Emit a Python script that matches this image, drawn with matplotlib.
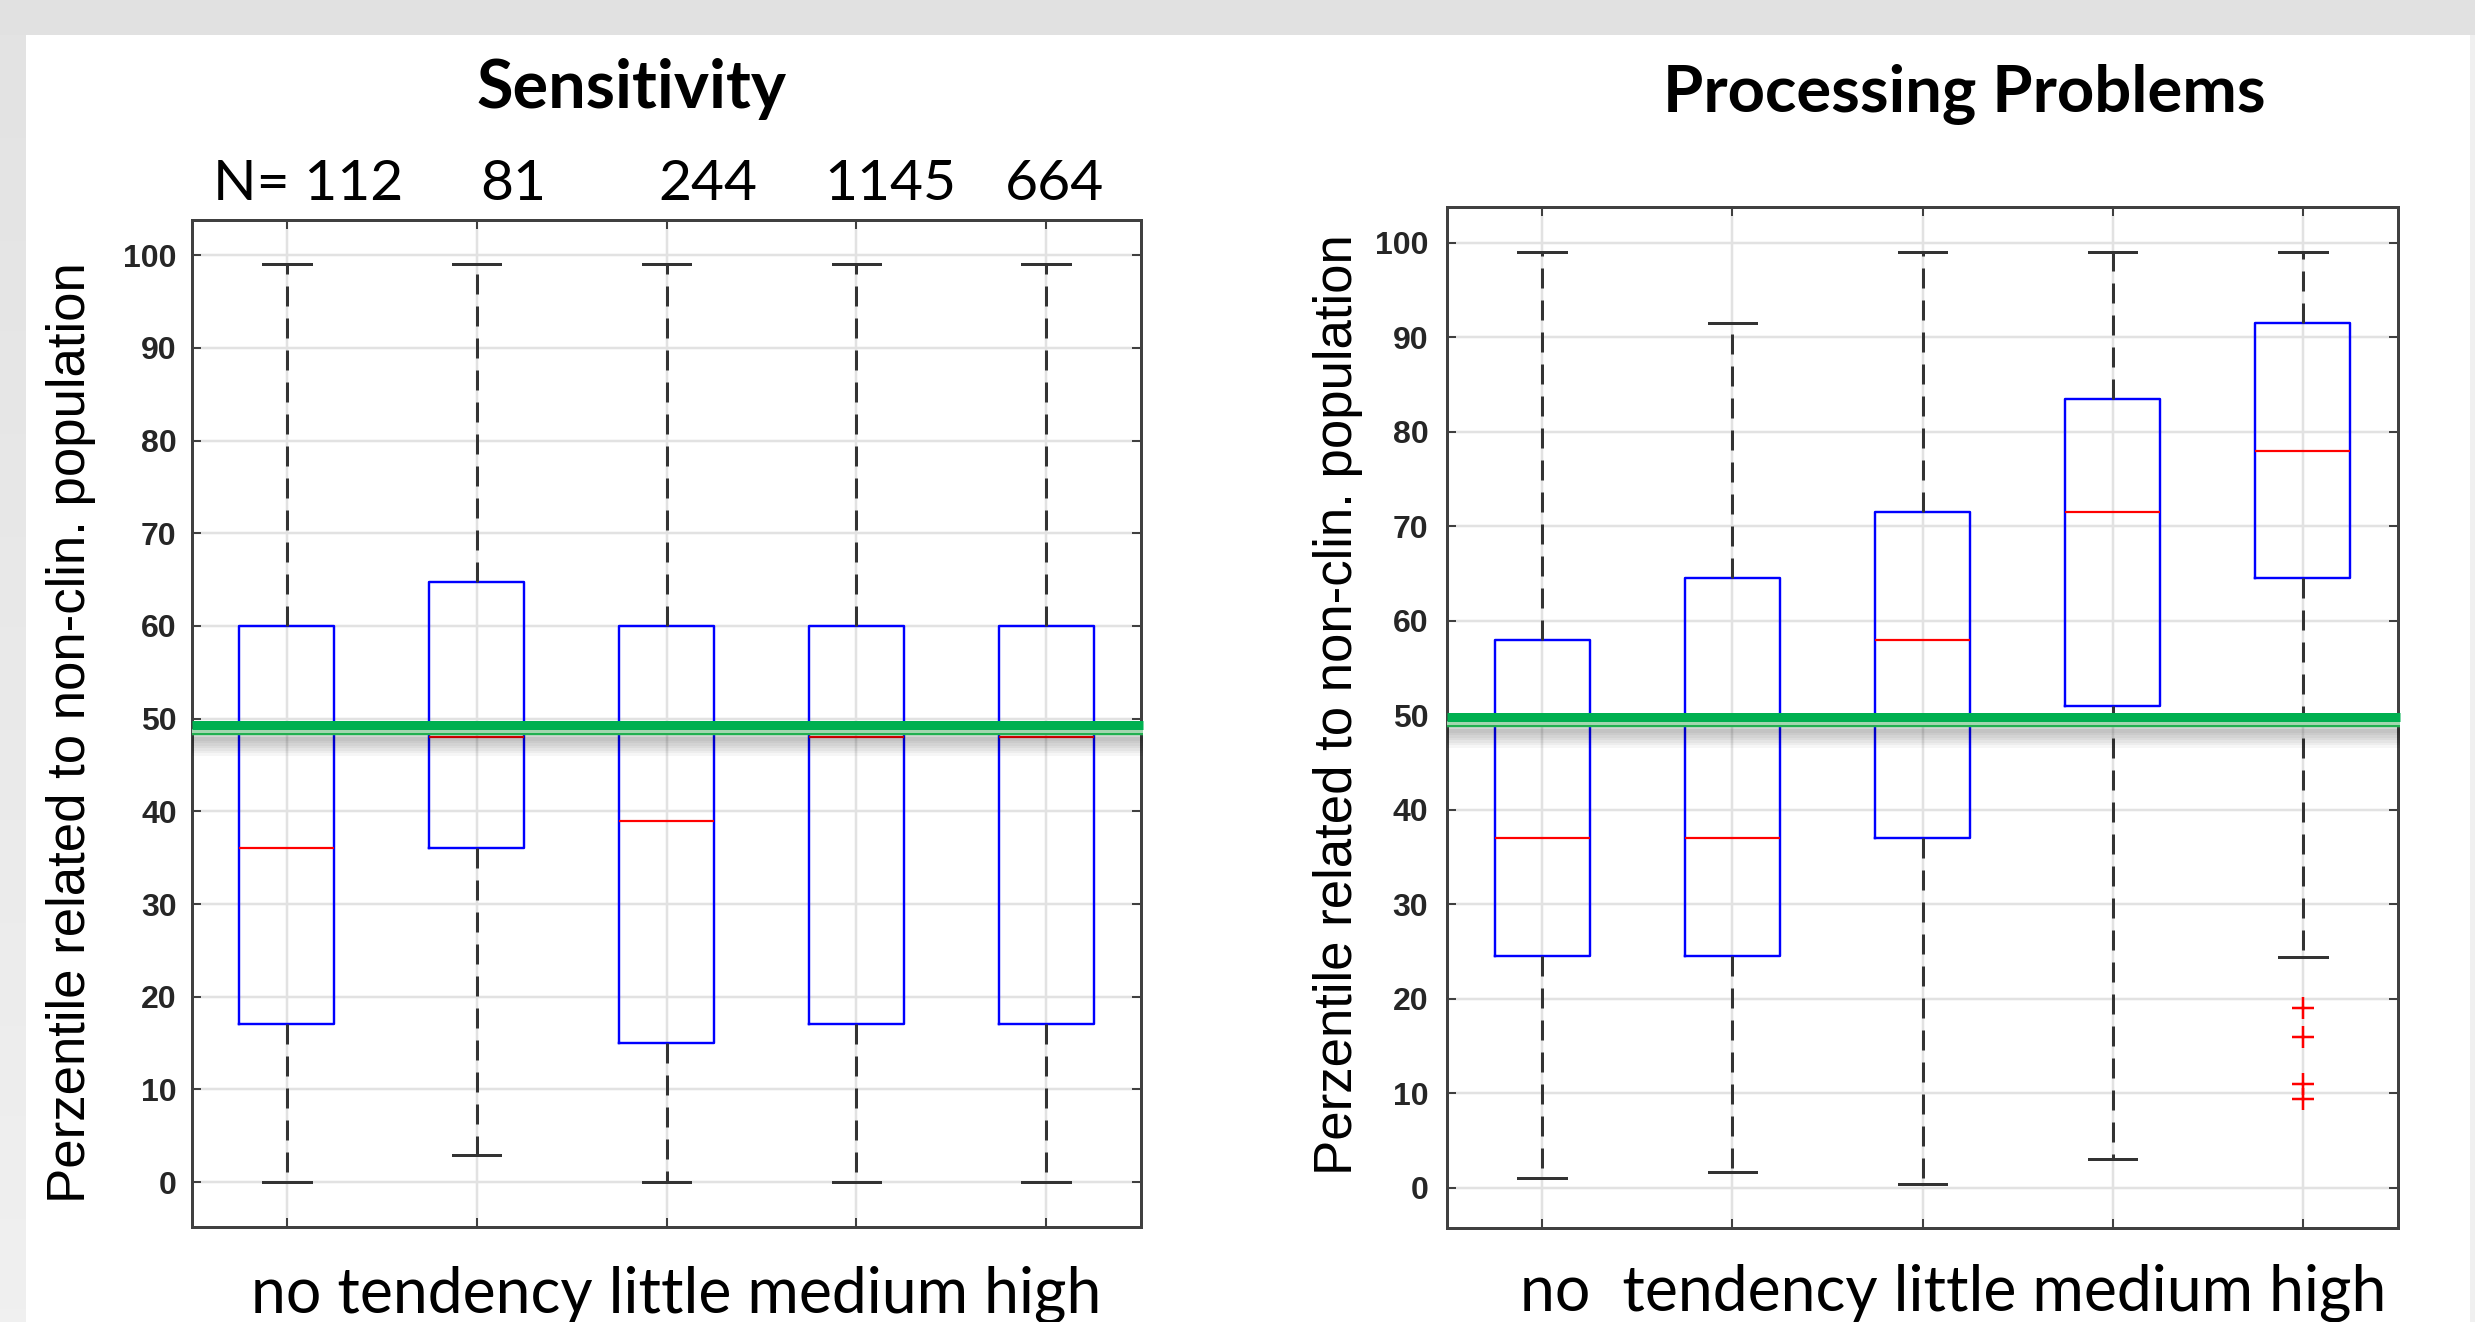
# -*- coding: utf-8 -*-
import numpy as np
import matplotlib
matplotlib.use("Agg")
import matplotlib.pyplot as plt
import matplotlib.transforms as mtrans
from matplotlib.patches import Rectangle

# ---- data ----
categories = ["no", "tendency", "little", "medium", "high"]
sens_n = ["N= 112", "81", "244", "1145", "664"]

sens_q1 = [17, 36, 15, 17, 17]
sens_q3 = [60, 64.7, 60, 60, 60]
sens_med = [36, 48, 39, 48, 48]
sens_lo = [0, 2.9, 0, 0, 0]
sens_hi = [99, 99, 99, 99, 99]
sens_fliers = [[], [], [], [], []]

proc_q1 = [24.5, 24.5, 37, 51, 64.5]
proc_q3 = [58, 64.5, 71.5, 83.5, 91.5]
proc_med = [37, 37, 58, 71.5, 78]
proc_lo = [1.0, 1.65, 0.45, 3.1, 24.4]
proc_hi = [99, 91.5, 99, 99, 99]
proc_fliers = [[], [], [], [], [19, 16, 11, 9.4]]

ref_level = [49.3, 49.8]  # green reference line (left, right)

plt.rcParams['lines.scale_dashes'] = False

W, H = 2475, 1322
DPI = 100
PX = 72.0 / DPI  # points per pixel

fig = plt.figure(figsize=(W / DPI, H / DPI), dpi=DPI, facecolor='#e1e1e1')

# slide background: grey frame + white area (own axes, kept behind everything)
bg = fig.add_axes([0, 0, 1, 1], zorder=-10)
bg.set_xlim(0, W)
bg.set_ylim(H, 0)
bg.axis('off')
grad = np.linspace(0, 1, 100).reshape(-1, 1)
cmap = matplotlib.colors.LinearSegmentedColormap.from_list('g', ['#e3e3e3', '#f0f0f0'])
bg.imshow(grad, cmap=cmap, aspect='auto', extent=[0, 26, H, 35])
bg.add_patch(Rectangle((26, 35), 2470 - 26, H - 35, facecolor='white', edgecolor='none'))
bg.add_patch(Rectangle((2470, 35), 5, H - 35, facecolor='#f0f0f0', edgecolor='none'))
bg.set_xlim(0, W)
bg.set_ylim(H, 0)


def make_stats(q1, q3, med, lo, hi, fl):
    out = []
    for i in range(len(q1)):
        out.append(dict(med=med[i], q1=q1[i], q3=q3[i], whislo=lo[i], whishi=hi[i], fliers=fl[i]))
    return out


def draw_panel(rect, stats, ylim, ref, pad):
    ax = fig.add_axes(rect, zorder=2)
    ax.set_facecolor('white')
    pos = np.arange(1, len(stats) + 1)
    ax.bxp(stats, positions=pos, widths=0.5, capwidths=0.25, showfliers=True,
           boxprops=dict(color='#0000ff', linewidth=2.4 * PX),
           medianprops=dict(color='#ff0000', linewidth=2.2 * PX),
           whiskerprops=dict(color='#333333', linewidth=3 * PX, linestyle=(0, (20 * PX, 12 * PX))),
           capprops=dict(color='#333333', linewidth=3 * PX),
           flierprops=dict(marker='+', markeredgecolor='#ff0000', markersize=22 * PX,
                           markeredgewidth=2.5 * PX, linestyle='none'))
    ax.set_xlim(0.5, 5.5)
    ax.set_ylim(*ylim)
    ax.set_yticks(np.arange(0, 101, 10))
    ax.set_xticks(pos)
    ax.set_xticklabels([])
    ax.grid(True, color='#e2e2e2', linewidth=2.5 * PX)
    ax.set_axisbelow(True)
    for s in ax.spines.values():
        s.set_color('#404040')
        s.set_linewidth(3 * PX)
    ax.tick_params(direction='in', top=True, right=True, length=9 * PX, width=2 * PX,
                   color='#404040', pad=pad)
    for lab in ax.get_yticklabels():
        lab.set_fontfamily('Liberation Sans')
        lab.set_fontweight('bold')
        lab.set_fontsize(23)
        lab.set_color('#262626')

    # green reference line with soft shadow
    xs = [0.5, 5.51]
    for k in range(8):
        tr = mtrans.offset_copy(ax.transData, fig=fig, y=-(11 + 1.5 * k), units='dots')
        ax.plot(xs, [ref, ref], color='#000000', alpha=0.035, linewidth=(4 + 2 * k) * PX,
                transform=tr, clip_on=False, solid_capstyle='butt', zorder=5)
    tr = mtrans.offset_copy(ax.transData, fig=fig, y=-8.5, units='dots')
    ax.plot(xs, [ref, ref], color='#22b050', linewidth=2.5 * PX, transform=tr, clip_on=False,
            solid_capstyle='butt', zorder=6)
    tr = mtrans.offset_copy(ax.transData, fig=fig, y=-6, units='dots')
    ax.plot(xs, [ref, ref], color='#a3d6af', linewidth=4 * PX, transform=tr, clip_on=False,
            solid_capstyle='butt', zorder=6)
    ax.plot(xs, [ref, ref], color='#00b050', linewidth=9 * PX, clip_on=False,
            solid_capstyle='butt', zorder=7)
    return ax


ax1 = draw_panel([192 / W, 1 - 1227 / H, 949 / W, 1007 / H],
                 make_stats(sens_q1, sens_q3, sens_med, sens_lo, sens_hi, sens_fliers),
                 (-4.85, 103.8), ref_level[0], 11)
ax2 = draw_panel([1447 / W, 1 - 1228 / H, 951 / W, 1021 / H],
                 make_stats(proc_q1, proc_q3, proc_med, proc_lo, proc_hi, proc_fliers),
                 (-4.25, 103.8), ref_level[1], 13.5)

# titles
fig.text(631 / W, 1 - 108 / H, "Sensitivity", family='Lato', weight='bold', fontsize=48,
         ha='center', va='baseline')
fig.text(1964 / W, 1 - 112 / H, "Processing Problems", family='Lato', weight='bold', fontsize=47,
         ha='center', va='baseline')

# group sizes
n_x = [308, 513, 708, 890, 1055]
for xx, lab in zip(n_x, sens_n):
    fig.text(xx / W, 1 - 200 / H, lab, family='Lato', fontsize=41, ha='center', va='baseline')

# y labels
ylab = "Perzentile related to non-clin. population"
fig.text(71 / W, 1 - 733 / H, ylab, family='Liberation Sans', fontsize=38, rotation=90,
         ha='center', va='center')
fig.text(1338 / W, 1 - 705 / H, ylab, family='Liberation Sans', fontsize=38, rotation=90,
         ha='center', va='center')

# category labels below the axes
fig.text(251 / W, 1 - 1312 / H, " ".join(categories), family='Lato', fontsize=45,
         ha='left', va='baseline')
fig.text(1520 / W, 1 - 1310 / H, categories[0] + "  " + " ".join(categories[1:]), family='Lato',
         fontsize=45, ha='left', va='baseline')

fig.savefig("out.png", dpi=DPI, facecolor=fig.get_facecolor())
